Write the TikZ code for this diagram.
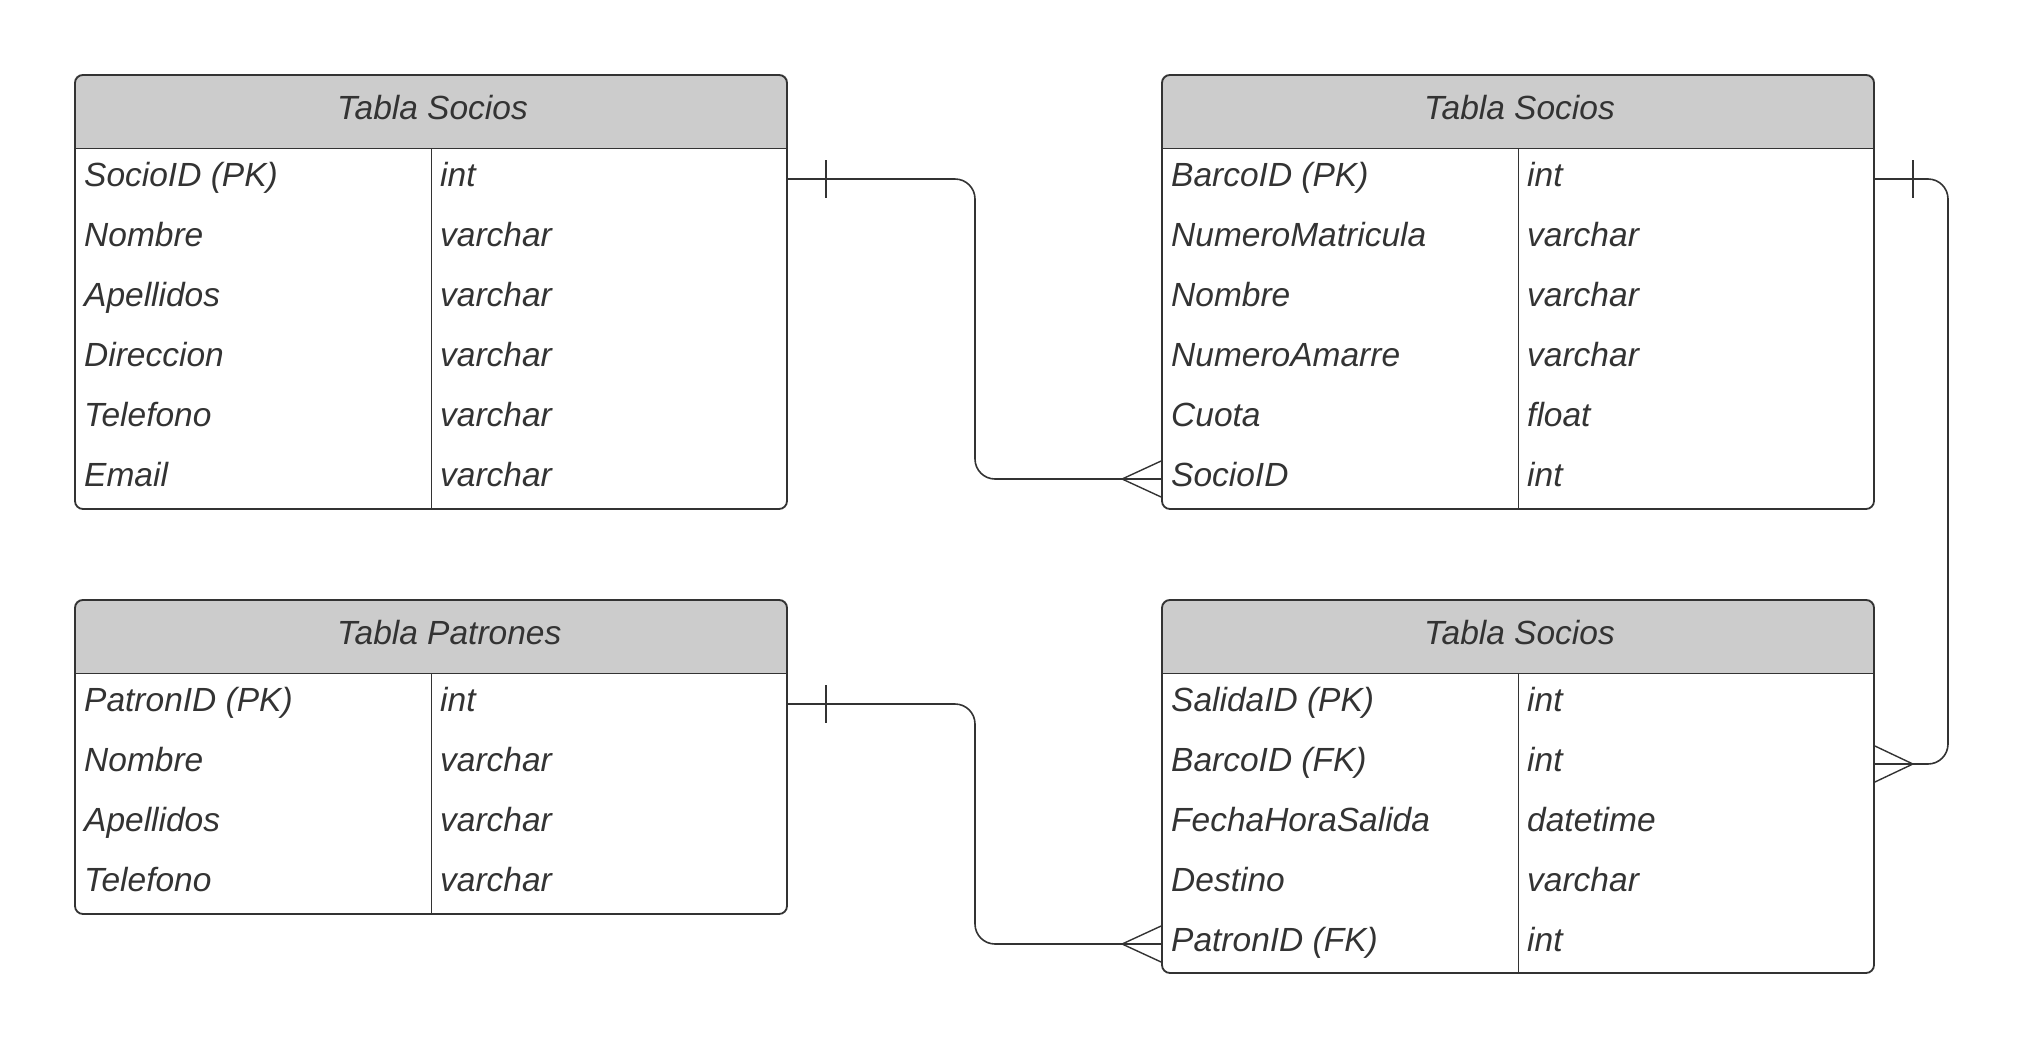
\documentclass[tikz,border=0pt]{standalone}
\usepackage{fontspec}
\setmainfont{Liberation Sans}
\usetikzlibrary{backgrounds}
\definecolor{ink}{HTML}{333333}
\definecolor{hdrgray}{HTML}{CCCCCC}
\tikzset{
  tbl/.style={draw=ink, line width=1.8pt, rounded corners=8pt, inner sep=0pt, fill=none},
  cell/.style={anchor=west, inner sep=0pt, text height=24pt, text depth=9pt,
    font=\fontsize{33.5}{40}\selectfont\itshape, text=ink},
  title/.style={cell},
  sep/.style={draw=ink, line width=1.2pt},
  conn/.style={draw=ink, line width=1.6pt},
  tick/.style={draw=ink, line width=1.3pt},
  crow/.style={draw=ink, line width=1.4pt}
}
\begin{document}
\begin{tikzpicture}[x=1pt,y=-1pt]
\useasboundingbox (0,0) rectangle (2027,1050);

% ---------- Table 1 (top left) ----------
\node[tbl, minimum width=712pt, minimum height=434pt] (t1) at (431,292) {};
\begin{scope}[on background layer]
\fill[hdrgray, rounded corners=8pt] (t1.north west) rectangle ([yshift=-74pt]t1.north east);
\fill[hdrgray] ([yshift=-40pt]t1.north west) rectangle ([yshift=-74pt]t1.north east);
\end{scope}
\draw[sep] ([yshift=-74pt]t1.north west) -- ([yshift=-74pt]t1.north east);
\draw[sep] ([xshift=357pt,yshift=-74pt]t1.north west) -- ([xshift=357pt]t1.south west);
\node[title] (t1h) at (337,112) {Tabla Socios};
\node[cell] (t1k1) at (84,179) {SocioID (PK)};
\node[cell] (t1k2) at (84,239) {Nombre};
\node[cell] (t1k3) at (84,299) {Apellidos};
\node[cell] (t1k4) at (84,359) {Direccion};
\node[cell] (t1k5) at (84,419) {Telefono};
\node[cell] (t1k6) at (84,479) {Email};
\node[cell] (t1v1) at (440,179) {int};
\node[cell] (t1v2) at (440,239) {varchar};
\node[cell] (t1v3) at (440,299) {varchar};
\node[cell] (t1v4) at (440,359) {varchar};
\node[cell] (t1v5) at (440,419) {varchar};
\node[cell] (t1v6) at (440,479) {varchar};

% ---------- Table 2 (top right) ----------
\node[tbl, minimum width=712pt, minimum height=434pt] (t2) at (1518,292) {};
\begin{scope}[on background layer]
\fill[hdrgray, rounded corners=8pt] (t2.north west) rectangle ([yshift=-74pt]t2.north east);
\fill[hdrgray] ([yshift=-40pt]t2.north west) rectangle ([yshift=-74pt]t2.north east);
\end{scope}
\draw[sep] ([yshift=-74pt]t2.north west) -- ([yshift=-74pt]t2.north east);
\draw[sep] ([xshift=357pt,yshift=-74pt]t2.north west) -- ([xshift=357pt]t2.south west);
\node[title] (t2h) at (1424,112) {Tabla Socios};
\node[cell] (t2k1) at (1171,179) {BarcoID (PK)};
\node[cell] (t2k2) at (1171,239) {NumeroMatricula};
\node[cell] (t2k3) at (1171,299) {Nombre};
\node[cell] (t2k4) at (1171,359) {NumeroAmarre};
\node[cell] (t2k5) at (1171,419) {Cuota};
\node[cell] (t2k6) at (1171,479) {SocioID};
\node[cell] (t2v1) at (1527,179) {int};
\node[cell] (t2v2) at (1527,239) {varchar};
\node[cell] (t2v3) at (1527,299) {varchar};
\node[cell] (t2v4) at (1527,359) {varchar};
\node[cell] (t2v5) at (1527,419) {float};
\node[cell] (t2v6) at (1527,479) {int};

% ---------- Table 3 (bottom left) ----------
\node[tbl, minimum width=712pt, minimum height=314pt] (t3) at (431,757) {};
\begin{scope}[on background layer]
\fill[hdrgray, rounded corners=8pt] (t3.north west) rectangle ([yshift=-74pt]t3.north east);
\fill[hdrgray] ([yshift=-40pt]t3.north west) rectangle ([yshift=-74pt]t3.north east);
\end{scope}
\draw[sep] ([yshift=-74pt]t3.north west) -- ([yshift=-74pt]t3.north east);
\draw[sep] ([xshift=357pt,yshift=-74pt]t3.north west) -- ([xshift=357pt]t3.south west);
\node[title] (t3h) at (337,637) {Tabla Patrones};
\node[cell] (t3k1) at (84,704) {PatronID (PK)};
\node[cell] (t3k2) at (84,764) {Nombre};
\node[cell] (t3k3) at (84,824) {Apellidos};
\node[cell] (t3k4) at (84,884) {Telefono};
\node[cell] (t3v1) at (440,704) {int};
\node[cell] (t3v2) at (440,764) {varchar};
\node[cell] (t3v3) at (440,824) {varchar};
\node[cell] (t3v4) at (440,884) {varchar};

% ---------- Table 4 (bottom right) ----------
\node[tbl, minimum width=712pt, minimum height=373pt] (t4) at (1518,786.5) {};
\begin{scope}[on background layer]
\fill[hdrgray, rounded corners=8pt] (t4.north west) rectangle ([yshift=-74pt]t4.north east);
\fill[hdrgray] ([yshift=-40pt]t4.north west) rectangle ([yshift=-74pt]t4.north east);
\end{scope}
\draw[sep] ([yshift=-74pt]t4.north west) -- ([yshift=-74pt]t4.north east);
\draw[sep] ([xshift=357pt,yshift=-74pt]t4.north west) -- ([xshift=357pt]t4.south west);
\node[title] (t4h) at (1424,637) {Tabla Socios};
\node[cell] (t4k1) at (1171,704) {SalidaID (PK)};
\node[cell] (t4k2) at (1171,764) {BarcoID (FK)};
\node[cell] (t4k3) at (1171,824) {FechaHoraSalida};
\node[cell] (t4k4) at (1171,884) {Destino};
\node[cell] (t4k5) at (1171,944) {PatronID (FK)};
\node[cell] (t4v1) at (1527,704) {int};
\node[cell] (t4v2) at (1527,764) {int};
\node[cell] (t4v3) at (1527,824) {datetime};
\node[cell] (t4v4) at (1527,884) {varchar};
\node[cell] (t4v5) at (1527,944) {int};

% ---------- Connectors ----------
\coordinate (m1) at (975,0);
\coordinate (m2) at (1948,0);

% Socios -> Barcos
\coordinate (p1s) at (t1.east |- t1k1);
\coordinate (p1e) at (t2.west |- t2k6);
\draw[conn, rounded corners=20pt] (p1s) -- (p1s -| m1) -- (p1e -| m1) -- (p1e);
\draw[tick] ([xshift=38pt]p1s) ++(0,-19) -- ++(0,38);
\draw[crow] ([yshift=18pt]p1e) -- ([xshift=-39pt]p1e) -- ([yshift=-18pt]p1e);

% Barcos -> Salidas
\coordinate (p2s) at (t2.east |- t2k1);
\coordinate (p2e) at (t4.east |- t4k2);
\draw[conn, rounded corners=20pt] (p2s) -- (p2s -| m2) -- (p2e -| m2) -- (p2e);
\draw[tick] ([xshift=38pt]p2s) ++(0,-19) -- ++(0,38);
\draw[crow] ([yshift=18pt]p2e) -- ([xshift=38pt]p2e) -- ([yshift=-18pt]p2e);

% Patrones -> Salidas
\coordinate (p3s) at (t3.east |- t3k1);
\coordinate (p3e) at (t4.west |- t4k5);
\draw[conn, rounded corners=20pt] (p3s) -- (p3s -| m1) -- (p3e -| m1) -- (p3e);
\draw[tick] ([xshift=38pt]p3s) ++(0,-19) -- ++(0,38);
\draw[crow] ([yshift=18pt]p3e) -- ([xshift=-39pt]p3e) -- ([yshift=-18pt]p3e);
\end{tikzpicture}
\end{document}
